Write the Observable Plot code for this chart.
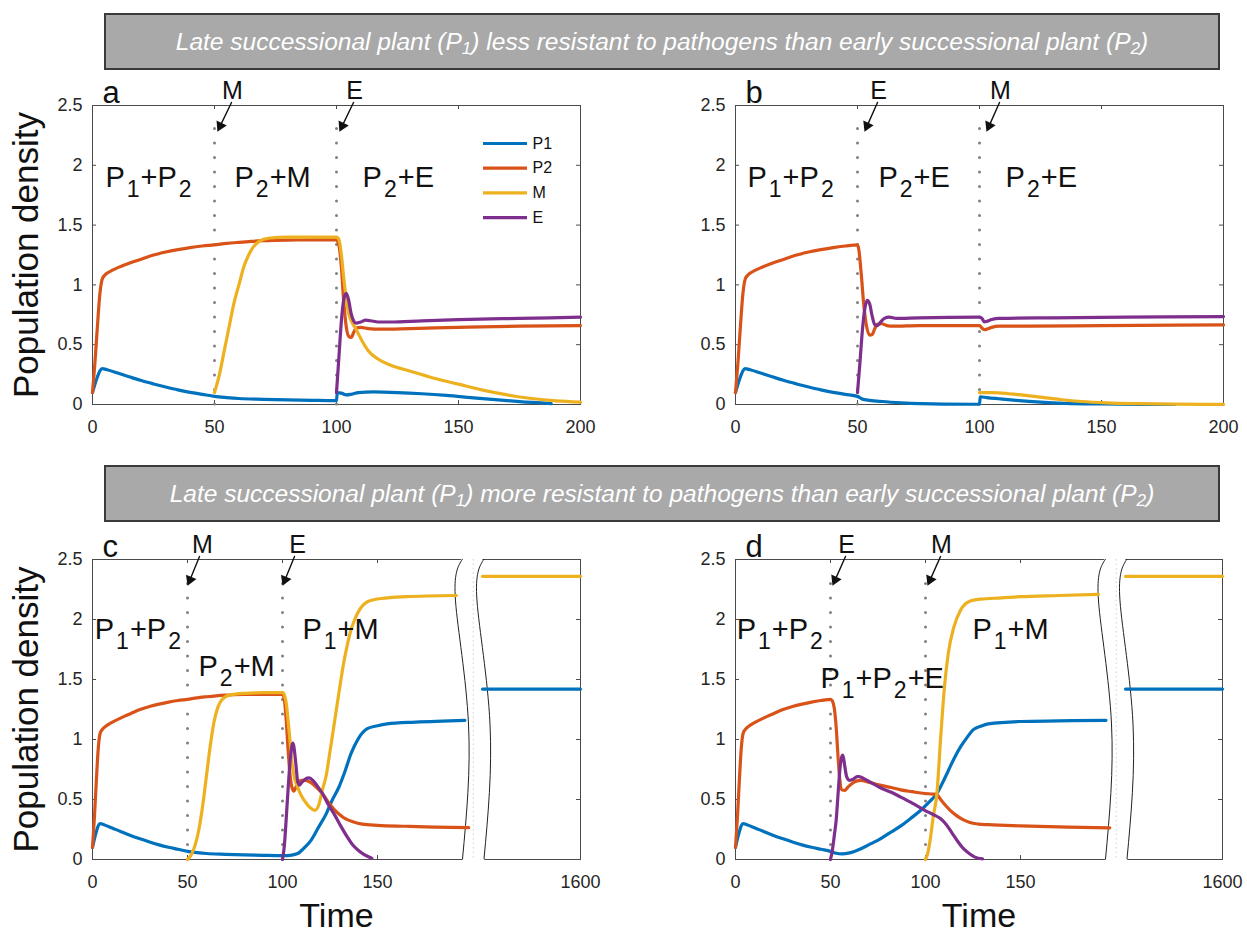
<!DOCTYPE html>
<html><head><meta charset="utf-8">
<script src="https://cdn.jsdelivr.net/npm/d3@7"></script>
<script src="https://cdn.jsdelivr.net/npm/@observablehq/plot@0.6"></script>
<style>
html,body{margin:0;padding:0;background:#fff;}
body{width:1247px;height:937px;position:relative;overflow:hidden;font-family:"Liberation Sans",Arial,sans-serif;}
.banner{position:absolute;left:104px;width:1116px;height:57px;box-sizing:border-box;background:#a9a9a9;border:2px solid #3a3a3a;color:#fff;font-style:italic;font-size:24.5px;display:flex;align-items:center;justify-content:center;white-space:nowrap;}
.banner sub{font-size:0.7em;vertical-align:baseline;position:relative;top:0.38em;line-height:0;}
.panel{position:absolute;}
.panel svg{max-width:none !important;}
</style></head><body>
<div class="banner" style="top:13px">Late successional plant (P<sub>1</sub>) less resistant to pathogens than early successional plant (P<sub>2</sub>)</div>
<div class="banner" style="top:465px">Late successional plant (P<sub>1</sub>) more resistant to pathogens than early successional plant (P<sub>2</sub>)</div>
<div id="pa" class="panel" style="left:0px;top:70px;width:620px;height:370px"></div>
<div id="pb" class="panel" style="left:640px;top:70px;width:607px;height:370px"></div>
<div id="pc" class="panel" style="left:0px;top:525px;width:620px;height:412px"></div>
<div id="pd" class="panel" style="left:640px;top:525px;width:607px;height:412px"></div>
<script>
// ---------- data ----------
const seriesNames = ["P1", "P2", "M", "E"];
const seriesColors = ["#0072BD", "#D95319", "#EDB120", "#7E2F8E"];
const yTicks = [0, 0.5, 1, 1.5, 2, 2.5];
const xTicksShort = [0, 50, 100, 150, 200];
const xTicksBroken = [0, 50, 100, 150, 1600];
const xTickLabelsBroken = ["0", "50", "100", "150", "1600"];

// shared initial phase (P1 + P2 only, t = 0..50)
const earlyP1 = [[0,0.1],[1,0.17],[2,0.23],[3,0.28],[4,0.3],[6,0.29],[10,0.265],[15,0.232],[20,0.2],[25,0.172],[30,0.146],[35,0.122],[40,0.102],[45,0.085],[50,0.068]];
const earlyP2 = [[0,0.1],[1,0.35],[2,0.65],[3,0.92],[4,1.05],[5,1.08],[7,1.11],[10,1.14],[15,1.18],[20,1.215],[25,1.25],[30,1.275],[35,1.295],[40,1.312],[45,1.325],[50,1.335]];
const midP1 = [[55,0.058],[60,0.05],[70,0.043],[80,0.038],[90,0.035],[100,0.033]];
const midP2 = [[55,1.347],[60,1.356],[65,1.364],[70,1.37],[80,1.375],[90,1.376],[100,1.376]];

// panel a
const aP1 = earlyP1.concat(midP1, [[100.3,0.1],[102,0.095],[104,0.08],[106,0.085],[109,0.1],[115,0.105],[125,0.1],[135,0.09],[145,0.076],[155,0.058],[165,0.04],[175,0.024],[188,0.008]]);
const aP2 = earlyP2.concat(midP2, [[101,1.33],[102,1.15],[103,0.85],[104,0.65],[105,0.57],[106,0.56],[107,0.6],[108,0.64],[110,0.645],[113,0.635],[118,0.63],[130,0.635],[150,0.645],[175,0.655],[200,0.66]]);
const aM = [[50,0.1],[52,0.25],[54,0.45],[56,0.65],[58,0.85],[60,1.0],[62,1.15],[64,1.25],[66,1.32],[68,1.36],[72,1.39],[80,1.4],[90,1.4],[100,1.4],[101,1.38],[102,1.25],[103,1.05],[104,0.88],[105,0.76],[106,0.7],[108,0.63],[110,0.55],[113,0.45],[117,0.38],[122,0.33],[130,0.28],[140,0.22],[150,0.17],[160,0.12],[170,0.08],[180,0.05],[190,0.03],[200,0.02]];
const aE = [[100,0.1],[101,0.4],[102,0.7],[103,0.88],[104,0.93],[105,0.87],[106,0.76],[107,0.7],[108,0.68],[110,0.69],[112,0.705],[114,0.7],[117,0.69],[122,0.69],[135,0.7],[150,0.71],[175,0.72],[200,0.73]];

// panel b
const bP1 = earlyP1.concat([[52,0.045],[55,0.035],[60,0.025],[68,0.014],[76,0.007],[85,0.003],[100,0.002],[100.3,0.065],[103,0.058],[108,0.048],[115,0.035],[125,0.02],[135,0.01],[150,0.004],[165,0.001],[180,0]]);
const bP2 = earlyP2.concat([[50.5,1.3],[51.5,1.1],[52.5,0.85],[53.5,0.68],[55,0.58],[56,0.585],[57,0.63],[58,0.67],[60,0.675],[62,0.66],[65,0.655],[75,0.66],[100,0.66],[101,0.64],[102,0.625],[103,0.63],[105,0.645],[108,0.655],[120,0.655],[150,0.66],[200,0.665]]);
const bM = [[100,0.1],[105,0.1],[108,0.098],[112,0.09],[118,0.078],[125,0.062],[133,0.042],[142,0.025],[152,0.014],[165,0.007],[180,0.003],[200,0.001]];
const bE = [[50,0.1],[51,0.35],[52,0.62],[53,0.8],[54,0.87],[55,0.84],[56,0.74],[57,0.67],[58,0.66],[59.5,0.69],[61,0.72],[63,0.73],[66,0.72],[75,0.725],[100,0.73],[101,0.72],[102,0.69],[103,0.695],[105,0.71],[108,0.72],[130,0.725],[160,0.73],[200,0.735]];

// panel c
const cP1 = earlyP1.concat(midP1, [[104,0.035],[108,0.05],[111,0.09],[115,0.16],[119,0.27],[123,0.38],[126,0.49],[129.6,0.6],[133,0.74],[136,0.88],[140,1.01],[144.6,1.09],[150,1.115],[155,1.13],[170,1.145],[196,1.16]]);
const cP2 = earlyP2.concat(midP2, [[101,1.33],[102,1.15],[103,0.9],[104,0.7],[105,0.6],[106,0.57],[107,0.6],[108,0.64],[110,0.66],[112,0.66],[115,0.64],[118,0.6],[121,0.55],[124,0.48],[127,0.42],[130,0.375],[133,0.34],[137,0.315],[142,0.295],[150,0.285],[165,0.277],[180,0.27],[198,0.265]]);
const cM = [[50,0],[52,0.04],[54,0.12],[56,0.25],[58,0.45],[60,0.7],[62,0.95],[64,1.15],[66,1.27],[68,1.33],[72,1.37],[80,1.385],[90,1.39],[100,1.39],[101,1.37],[102,1.3],[103,1.15],[104,0.98],[105,0.8],[106,0.7],[108,0.6],[110,0.53],[112,0.48],[114,0.44],[117,0.41],[119,0.45],[121,0.58],[123,0.7],[125,0.9],[127.5,1.16],[130,1.42],[132,1.62],[134,1.78],[136,1.91],[138,2.0],[140.5,2.08],[145,2.15],[152,2.175],[165,2.19],[191.5,2.2]];
const cE = [[100,0],[101,0.12],[102,0.35],[103,0.6],[104,0.82],[105,0.95],[105.5,0.97],[106,0.94],[107,0.8],[108,0.65],[109,0.62],[110,0.64],[112,0.67],[114,0.68],[116,0.66],[118,0.62],[121,0.55],[124,0.46],[127.5,0.37],[131,0.27],[134,0.19],[137,0.12],[140,0.075],[143,0.04],[147,0.01]];
const cP1Far = [[1560,1.42],[1600,1.42]];
const cMFar = [[1560,2.36],[1600,2.36]];

// panel d
const dP1 = earlyP1.concat([[53,0.052],[56,0.047],[60,0.055],[66,0.09],[71,0.13],[76,0.17],[81,0.22],[87,0.28],[92,0.34],[97.5,0.41],[102,0.48],[106,0.55],[109,0.64],[112,0.74],[115,0.84],[118.5,0.94],[122,1.02],[125,1.08],[129,1.11],[133,1.13],[150,1.15],[170,1.155],[195,1.16]]);
const dP2 = earlyP2.concat([[51,1.32],[52,1.26],[53,1.1],[54,0.85],[55,0.65],[56,0.58],[57.5,0.575],[59,0.6],[61,0.63],[64,0.655],[66,0.66],[70,0.645],[76,0.62],[82,0.6],[87,0.58],[93,0.565],[99.6,0.55],[104,0.545],[106,0.54],[108,0.5],[110,0.46],[113,0.41],[116,0.37],[120,0.33],[123,0.31],[128,0.295],[133,0.29],[150,0.28],[175,0.27],[197,0.264]]);
const dM = [[100,0],[101,0.04],[102.7,0.19],[104,0.35],[106,0.55],[108,1.02],[110,1.44],[112,1.72],[115,1.94],[118.5,2.08],[123,2.15],[129,2.17],[140,2.18],[150,2.19],[170,2.2],[191,2.21]];
const dE = [[50,0],[51,0.08],[52,0.2],[53,0.33],[54,0.55],[55,0.76],[56,0.86],[56.5,0.87],[57.5,0.78],[58.5,0.69],[60,0.66],[62,0.67],[64,0.69],[65,0.69],[68,0.67],[72,0.635],[76,0.6],[82,0.56],[87,0.52],[93,0.47],[99.6,0.41],[104,0.375],[108,0.34],[111,0.29],[114,0.22],[117,0.15],[120,0.09],[123,0.05],[126,0.02],[130,0.005]];
const dP1Far = [[1560,1.42],[1600,1.42]];
const dMFar = [[1560,2.36],[1600,2.36]];

// introduction events (time, organism)
const aEvents = [{t:50, label:"M"}, {t:100, label:"E"}];
const bEvents = [{t:50, label:"E"}, {t:100, label:"M"}];
const cEvents = [{t:50, label:"M"}, {t:100, label:"E"}];
const dEvents = [{t:50, label:"E"}, {t:100, label:"M"}];

// community labels (start time, population density of baseline)
const aRegions = [{t:5.3, v:1.82, label:"P_1+P_2"}, {t:58.2, v:1.82, label:"P_2+M"}, {t:110.7, v:1.82, label:"P_2+E"}];
const bRegions = [{t:4.9, v:1.82, label:"P_1+P_2"}, {t:58.6, v:1.82, label:"P_2+E"}, {t:110.7, v:1.82, label:"P_2+E"}];
const cRegions = [{t:1.2, v:1.84, label:"P_1+P_2"}, {t:55.8, v:1.53, label:"P_2+M"}, {t:110.5, v:1.84, label:"P_1+M"}];
const dRegions = [{t:0.6, v:1.84, label:"P_1+P_2"}, {t:44.7, v:1.43, label:"P_1+P_2+E"}, {t:124.7, v:1.84, label:"P_1+M"}];

// ---------- rendering ----------
const FONT = "'Liberation Sans', Arial, Helvetica, sans-serif";
const REGION_FS = 29;
const SUB_FS = 23;
const SUB_SHIFT = 10;
const AXIS_COLOR = "#4a4a4a";

function breakMark(tLeft, tRight) {
  return (index, scales, values, dims) => {
    const xs = scales.x;
    const top = dims.marginTop, bot = dims.height - dims.marginBottom;
    const xl = xs(tLeft), xr = xs(tRight) + 2;
    const shape = [[0,0],[0.14,-7],[0.55,6],[1,0]];
    const pts = (x0, ext) => shape.map(([f, d]) => [x0 + d, (top - ext) + f * (bot - top + 2 * ext)]);
    const line = d3.line().curve(d3.curveNatural);
    const g = d3.create("svg:g");
    const fillL = line(pts(xl, 2));
    const fillR = line(pts(xr, 2).reverse());
    g.append("path").attr("d", fillL + "L" + fillR.slice(1) + "Z").attr("fill", "white").attr("stroke", "none");
    g.append("line").attr("x1", (xl + xr) / 2).attr("x2", (xl + xr) / 2).attr("y1", top).attr("y2", bot)
      .attr("stroke", "#d0d0d0").attr("stroke-dasharray", "1.5,3").attr("stroke-width", 1);
    g.append("path").attr("d", line(pts(xl, 0))).attr("fill", "none").attr("stroke", "#222").attr("stroke-width", 1);
    g.append("path").attr("d", line(pts(xr, 0))).attr("fill", "none").attr("stroke", "#222").attr("stroke-width", 1);
    return g.node();
  };
}

function applySubscripts(svg) {
  svg.querySelectorAll("text").forEach(t => {
    const s = t.textContent;
    if (!s.includes("_")) return;
    const parts = s.split(/_(\w)/);
    t.textContent = "";
    parts.forEach((p, i) => {
      if (p === "") return;
      const ts = document.createElementNS("http://www.w3.org/2000/svg", "tspan");
      ts.textContent = p;
      if (i % 2 === 1) {
        ts.setAttribute("dy", SUB_SHIFT);
        ts.setAttribute("dx", 2);
        ts.setAttribute("font-size", SUB_FS);
      } else if (i > 0) {
        ts.setAttribute("dy", -SUB_SHIFT);
        ts.setAttribute("dx", 1);
      }
      t.appendChild(ts);
    });
  });
}

function panel(cfg) {
  const {width, height, m, x, xTicks, xTickLabels, topTicks, lines, events, regions, letter,
         yLabel, xLabel, legend, brk, ann} = cfg;
  const fw = width - m.l - m.r, fh = height - m.t - m.b;
  const ppv = fh / 2.5;
  const ppu = (x.range[1] - x.range[0]) / (x.domain[1] - x.domain[0]);
  const tickStyle = {stroke: AXIS_COLOR, strokeWidth: 1};
  // arrow geometry (screen px offsets from the event line at the frame top)
  const aStart = {dx: ann.a0, dy: -3}, aEnd = {dx: ann.a1, dy: 24};
  const len = Math.hypot(aEnd.dx - aStart.dx, aEnd.dy - aStart.dy);
  const ux = (aEnd.dx - aStart.dx) / len, uy = (aEnd.dy - aStart.dy) / len;
  const headRot = Math.atan2(ux, -uy) * 180 / Math.PI;
  const marks = [
    Plot.frame({stroke: AXIS_COLOR, strokeWidth: 1}),
    Plot.tickX(xTicks, {x: d => d, insetTop: fh - 4, ...tickStyle}),
    Plot.tickX(topTicks, {x: d => d, insetBottom: fh - 4, ...tickStyle}),
    Plot.tickY(yTicks, {y: d => d, insetRight: fw - 4, ...tickStyle}),
    Plot.tickY(yTicks, {y: d => d, insetLeft: fw - 4, ...tickStyle})
  ];
  if (brk) marks.push(breakMark(brk[0], brk[1]));
  marks.push(
    Plot.axisX({ticks: xTicks, tickSize: 0, tickPadding: 16, fontSize: 18, label: null,
      tickFormat: d => xTickLabels[xTicks.indexOf(d)]}),
    Plot.axisY({ticks: yTicks, tickSize: 0, tickPadding: 10, fontSize: 18, label: null,
      tickFormat: d => String(d)}),
    Plot.ruleX(events, {x: "t", y1: () => 0, y2: () => ann.dotTop, stroke: "#808080", strokeWidth: 3,
      strokeDasharray: "0 14.5", strokeLinecap: "round"})
  );
  lines.forEach(([data, idx]) => {
    marks.push(Plot.line(data, {x: d => d[0], y: d => d[1], stroke: seriesColors[idx], strokeWidth: 3.2,
      curve: "monotone-x", strokeLinejoin: "round", strokeLinecap: "round"}));
  });
  const backHead = 4;
  marks.push(
    Plot.arrow(events, {
      x1: d => d.t + aStart.dx / ppu, y1: () => 2.5 - aStart.dy / ppv,
      x2: d => d.t + (aEnd.dx - ux * backHead) / ppu, y2: () => 2.5 - (aEnd.dy - uy * backHead) / ppv,
      stroke: "#111", strokeWidth: 1.4, headLength: 0
    }),
    Plot.dot(events, {
      x: d => d.t + (aEnd.dx - ux * backHead) / ppu, y: () => 2.5 - (aEnd.dy - uy * backHead) / ppv,
      symbol: "triangle", r: 4.2, fill: "#111", stroke: "none", rotate: headRot
    }),
    Plot.text(events, {x: "t", frameAnchor: "top", dx: ann.lab, dy: -7, text: "label",
      lineAnchor: "bottom", fontSize: 25, fill: "#111"}),
    Plot.text(regions, {x: "t", y: "v", text: "label", textAnchor: "start", lineAnchor: "bottom",
      fontSize: REGION_FS, fill: "#111"}),
    Plot.text([letter], {frameAnchor: "top-left", text: d => d, dx: 10, dy: -3, textAnchor: "start",
      lineAnchor: "bottom", fontSize: 31, fill: "#111"})
  );
  if (yLabel) marks.push(Plot.text([yLabel], {frameAnchor: "left", text: d => d, rotate: -90, dx: -66,
      textAnchor: "middle", fontSize: 35, fill: "#111"}));
  if (xLabel) marks.push(Plot.text([xLabel], {frameAnchor: "bottom", text: d => d, dy: 67,
      textAnchor: "middle", fontSize: 34, fill: "#111"}));
  if (legend) {
    const rows = seriesNames.map((s, i) => ({s, i, v: 2.5 - (38 + 24.7 * i) / ppv}));
    marks.push(
      Plot.ruleY(rows, {y: "v", x1: () => 391 / ppu, x2: () => 435 / ppu, stroke: (d) => seriesColors[d.i],
        strokeWidth: 3.2}),
      Plot.text(rows, {y: "v", x: () => 440 / ppu, text: "s", textAnchor: "start", fontSize: 16, fill: "#111"})
    );
  }
  const svg = Plot.plot({
    width, height,
    marginLeft: m.l, marginRight: m.r, marginTop: m.t, marginBottom: m.b,
    x: {type: "linear", domain: x.domain, range: x.range},
    y: {domain: [0, 2.5]},
    color: {type: "identity"},
    symbol: {type: "identity"},
    style: {fontFamily: FONT, color: "#262626", background: "white", overflow: "visible"},
    marks
  });
  applySubscripts(svg);
  return svg;
}

const mAB = (l, r) => ({l, r, t: 35, b: 36});
const mCD = (l, r) => ({l, r, t: 34, b: 78});

document.getElementById("pa").appendChild(panel({
  width: 620, height: 370, m: mAB(92, 40),
  x: {domain: [0, 200], range: [92, 580]},
  xTicks: xTicksShort, xTickLabels: xTicksShort.map(String), topTicks: [50, 100, 150],
  lines: [[aP1, 0], [aP2, 1], [aM, 2], [aE, 3]],
  events: aEvents, regions: aRegions, letter: "a", yLabel: "Population density", legend: true,
  ann: {a0: 17, a1: 4, lab: 18, dotTop: 2.38}
}));
document.getElementById("pb").appendChild(panel({
  width: 607, height: 370, m: mAB(95, 24),
  x: {domain: [0, 200], range: [95, 583]},
  xTicks: xTicksShort, xTickLabels: xTicksShort.map(String), topTicks: [50, 100, 150],
  lines: [[bP1, 0], [bP2, 1], [bM, 2], [bE, 3]],
  events: bEvents, regions: bRegions, letter: "b",
  ann: {a0: 20, a1: 8, lab: 21, dotTop: 2.4}
}));
document.getElementById("pc").appendChild(panel({
  width: 620, height: 412, m: mCD(92, 40),
  x: {domain: [0, 200, 1560, 1600], range: [92, 472, 482, 580]},
  xTicks: xTicksBroken, xTickLabels: xTickLabelsBroken, topTicks: [50, 100, 150],
  lines: [[cP1, 0], [cP2, 1], [cM, 2], [cE, 3], [cP1Far, 0], [cMFar, 2]],
  events: cEvents, regions: cRegions, letter: "c", yLabel: "Population density", xLabel: "Time",
  brk: [195, 1560],
  ann: {a0: 12, a1: 1, lab: 15, dotTop: 2.3}
}));
document.getElementById("pd").appendChild(panel({
  width: 607, height: 412, m: mCD(95, 25),
  x: {domain: [0, 200, 1560, 1600], range: [95, 475, 485, 582]},
  xTicks: xTicksBroken, xTickLabels: xTickLabelsBroken, topTicks: [50, 100, 150],
  lines: [[dP1, 0], [dP2, 1], [dM, 2], [dE, 3], [dP1Far, 0], [dMFar, 2]],
  events: dEvents, regions: dRegions, letter: "d", xLabel: "Time",
  brk: [195, 1560],
  ann: {a0: 15, a1: 3, lab: 16, dotTop: 2.3}
}));
</script>
</body></html>
